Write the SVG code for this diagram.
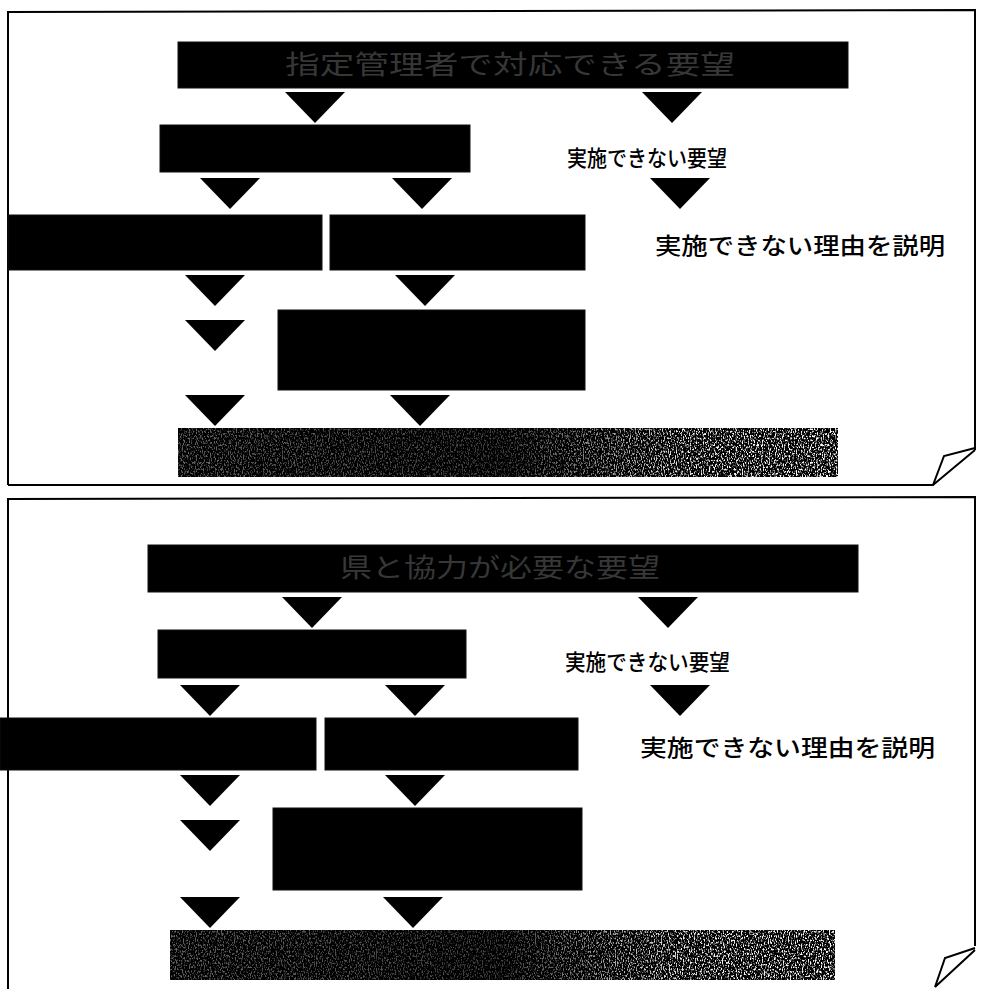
<svg xmlns="http://www.w3.org/2000/svg" width="981" height="989" viewBox="0 0 981 989">
<style>
.frame{fill:none;stroke:#000;stroke-width:2}
.blk{fill:#000;stroke:#111;stroke-width:1}
.tri{fill:#000}
.lbl{font-family:"Noto Sans CJK JP","Noto Sans",sans-serif;font-weight:500;fill:#000}
.hid{font-family:"Noto Sans CJK JP","Noto Sans",sans-serif;font-size:26px;fill:#fff;fill-opacity:0.22}
</style>
<defs>
<linearGradient id="wg" x1="0" y1="0" x2="1" y2="0">
<stop offset="0" stop-color="#fff" stop-opacity="0.4"/>
<stop offset="0.5" stop-color="#fff" stop-opacity="0.25"/>
<stop offset="0.78" stop-color="#fff" stop-opacity="0.95"/>
<stop offset="1" stop-color="#fff" stop-opacity="1"/>
</linearGradient>
<filter id="noise" x="0" y="0" width="1" height="1">
<feTurbulence type="fractalNoise" baseFrequency="0.85 0.45" numOctaves="2" seed="3" result="n"/>
<feColorMatrix in="n" type="matrix" values="0 0 0 0 1  0 0 0 0 1  0 0 0 0 1  5 0 0 0 -2.45" result="w"/>
<feComposite in="w" in2="SourceGraphic" operator="in"/>
</filter>
<polygon id="arr" points="-30,0 30,0 0,31"/>
</defs>
<rect width="981" height="989" fill="#fff"/>

<g id="panel1-frame">
<path class="frame" d="M8,485 L8,12 L975,10 L975,450"/>
<path class="frame" d="M8,485 L933,485 L944,456 L975,448 M933,485 L975,450" stroke-width="1.5"/>
</g>
<g id="panel2-frame">
<path class="frame" d="M8,989 L8,499 L975,497 L975,946"/>
<path class="frame" d="M935,987 L945,958 L975,948 M935,987 L975,950" stroke-width="1.5"/>
</g>

<g id="connectors">
<use href="#arr" class="tri" x="315" y="92"/>
<use href="#arr" class="tri" x="672" y="92"/>
<use href="#arr" class="tri" x="230" y="178"/>
<use href="#arr" class="tri" x="422" y="178"/>
<use href="#arr" class="tri" x="680" y="178"/>
<use href="#arr" class="tri" x="215" y="275"/>
<use href="#arr" class="tri" x="425" y="275"/>
<use href="#arr" class="tri" x="215" y="320"/>
<use href="#arr" class="tri" x="215" y="395"/>
<use href="#arr" class="tri" x="420" y="395"/>

<use href="#arr" class="tri" x="312" y="597"/>
<use href="#arr" class="tri" x="668" y="597"/>
<use href="#arr" class="tri" x="210" y="685"/>
<use href="#arr" class="tri" x="415" y="685"/>
<use href="#arr" class="tri" x="680" y="685"/>
<use href="#arr" class="tri" x="210" y="775"/>
<use href="#arr" class="tri" x="415" y="775"/>
<use href="#arr" class="tri" x="210" y="820"/>
<use href="#arr" class="tri" x="210" y="897"/>
<use href="#arr" class="tri" x="413" y="897"/>
</g>

<g id="p1-top"><rect class="blk" x="178" y="42" width="670" height="46"/>
<text class="hid" x="510" y="74" text-anchor="middle" textLength="450" lengthAdjust="spacingAndGlyphs">指定管理者で対応できる要望</text></g>
<g id="p1-b2"><rect class="blk" x="160" y="125" width="310" height="47"/></g>
<g id="p1-notdo"><text class="lbl" x="567" y="166" font-size="22" textLength="160" lengthAdjust="spacingAndGlyphs">実施できない要望</text></g>
<g id="p1-left"><rect class="blk" x="8" y="215" width="314" height="55"/></g>
<g id="p1-right"><rect class="blk" x="330" y="215" width="255" height="55"/></g>
<g id="p1-reason"><text class="lbl" x="655" y="254" font-size="23" textLength="290" lengthAdjust="spacingAndGlyphs">実施できない理由を説明</text></g>
<g id="p1-mid"><rect class="blk" x="278" y="310" width="307" height="80"/></g>
<g id="p1-bottom"><rect fill="#000" x="178" y="428" width="660" height="49"/><rect fill="url(#wg)" filter="url(#noise)" x="178" y="428" width="660" height="49"/></g>

<g id="p2-top"><rect class="blk" x="148" y="545" width="710" height="47"/>
<text class="hid" x="500" y="577" text-anchor="middle" textLength="320" lengthAdjust="spacingAndGlyphs">県と協力が必要な要望</text></g>
<g id="p2-b2"><rect class="blk" x="158" y="630" width="308" height="48"/></g>
<g id="p2-notdo"><text class="lbl" x="565" y="670" font-size="22" textLength="165" lengthAdjust="spacingAndGlyphs">実施できない要望</text></g>
<g id="p2-left"><rect class="blk" x="0" y="718" width="316" height="52"/></g>
<g id="p2-right"><rect class="blk" x="325" y="718" width="253" height="52"/></g>
<g id="p2-reason"><text class="lbl" x="640" y="756" font-size="23" textLength="295" lengthAdjust="spacingAndGlyphs">実施できない理由を説明</text></g>
<g id="p2-mid"><rect class="blk" x="273" y="808" width="309" height="82"/></g>
<g id="p2-bottom"><rect fill="#000" x="170" y="930" width="665" height="50"/><rect fill="url(#wg)" filter="url(#noise)" x="170" y="930" width="665" height="50"/></g>
</svg>
